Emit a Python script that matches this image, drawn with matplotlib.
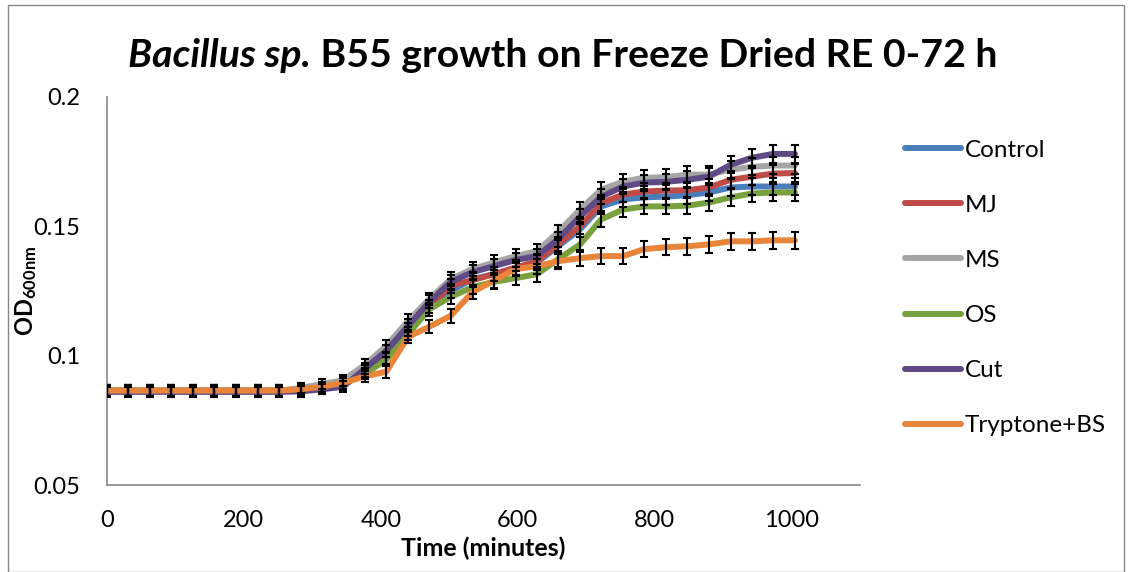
import matplotlib
matplotlib.use("Agg")
import matplotlib.pyplot as plt
from matplotlib.patches import Rectangle

plt.rcParams['font.family'] = ['Lato', 'DejaVu Sans']
plt.rcParams['mathtext.fontset'] = 'custom'
plt.rcParams['mathtext.rm'] = 'Lato'
plt.rcParams['mathtext.bf'] = 'Lato:bold'

# time points (minutes)
time = [0, 31, 63, 94, 126, 157, 188, 220, 251, 283, 314, 345, 377, 408, 440, 471,
        502, 534, 565, 597, 628, 659, 691, 722, 754, 785, 816, 848, 879, 911, 942, 973, 1005]

control = [0.0865, 0.0865, 0.0865, 0.0865, 0.0865, 0.0865, 0.0865, 0.0865, 0.0865, 0.0870, 0.0880,
           0.0890, 0.0940, 0.0990, 0.1100, 0.1190, 0.1250, 0.1296, 0.1315, 0.1340, 0.1360, 0.1423,
           0.1488, 0.1577, 0.1604, 0.1612, 0.1615, 0.1620, 0.1631, 0.1650, 0.1654, 0.1654, 0.1654]
mj = [0.0865, 0.0865, 0.0865, 0.0865, 0.0865, 0.0865, 0.0865, 0.0865, 0.0865, 0.0870, 0.0880,
      0.0890, 0.0940, 0.0990, 0.1100, 0.1190, 0.1270, 0.1292, 0.1315, 0.1340, 0.1365, 0.1430,
      0.1500, 0.1590, 0.1623, 0.1635, 0.1638, 0.1640, 0.1650, 0.1680, 0.1692, 0.1704, 0.1706]
ms = [0.0865, 0.0865, 0.0865, 0.0865, 0.0865, 0.0865, 0.0865, 0.0865, 0.0865, 0.0875, 0.0890,
      0.0905, 0.0965, 0.1038, 0.1135, 0.1219, 0.1296, 0.1335, 0.1360, 0.1385, 0.1404, 0.1477,
      0.1565, 0.1642, 0.1673, 0.1688, 0.1690, 0.1700, 0.1700, 0.1719, 0.1730, 0.1735, 0.1735]
os_ = [0.0865, 0.0865, 0.0865, 0.0865, 0.0865, 0.0865, 0.0865, 0.0865, 0.0865, 0.0868, 0.0878,
       0.0890, 0.0930, 0.0985, 0.1085, 0.1180, 0.1227, 0.1265, 0.1285, 0.1300, 0.1315, 0.1373,
       0.1430, 0.1527, 0.1565, 0.1577, 0.1577, 0.1580, 0.1592, 0.1612, 0.1627, 0.1631, 0.1631]
cut = [0.0860, 0.0860, 0.0860, 0.0860, 0.0860, 0.0860, 0.0860, 0.0860, 0.0860, 0.0862, 0.0870,
       0.0880, 0.0950, 0.1019, 0.1115, 0.1208, 0.1285, 0.1323, 0.1346, 0.1370, 0.1385, 0.1450,
       0.1538, 0.1615, 0.1654, 0.1669, 0.1672, 0.1680, 0.1692, 0.1738, 0.1765, 0.1780, 0.1780]
tryp = [0.0865, 0.0865, 0.0865, 0.0865, 0.0865, 0.0865, 0.0865, 0.0865, 0.0865, 0.0870, 0.0880,
        0.0895, 0.0920, 0.0938, 0.1073, 0.1112, 0.1154, 0.1246, 0.1290, 0.1335, 0.1346, 0.1365,
        0.1377, 0.1385, 0.1385, 0.1412, 0.1419, 0.1423, 0.1430, 0.1442, 0.1442, 0.1446, 0.1446]

# standard deviations
err = [0.0020, 0.0020, 0.0020, 0.0020, 0.0020, 0.0020, 0.0020, 0.0020, 0.0020, 0.0020, 0.0020,
       0.0022, 0.0022, 0.0024, 0.0025, 0.0025, 0.0026, 0.0027, 0.0028, 0.0028, 0.0029, 0.0030,
       0.0030, 0.0030, 0.0030, 0.0031, 0.0031, 0.0032, 0.0032, 0.0033, 0.0033, 0.0034, 0.0034]

labels = ["Control", "MJ", "MS", "OS", "Cut", "Tryptone+BS"]
series = [control, mj, ms, os_, cut, tryp]
colors = ["#4A7EBB", "#BE4B48", "#A5A5A5", "#78A03C", "#5F4A85", "#E8853A"]

fig = plt.figure(figsize=(11.28, 5.72), dpi=100)
ax = fig.add_axes([107/1128, 1 - 485/572, (860 - 107)/1128, (485 - 97)/572])

for vals, lab, col in zip(series, labels, colors):
    ax.plot(time, vals, color=col, lw=4.3, label=lab, solid_capstyle='round', zorder=2)
for vals in series:
    ax.errorbar(time, vals, yerr=err, fmt='none', ecolor='black', elinewidth=1.5,
                capsize=3, capthick=1.5, zorder=3)

ax.set_xlim(0, 1100)
ax.set_ylim(0.05, 0.2)
ax.set_xticks([0, 200, 400, 600, 800, 1000])
ax.set_yticks([0.05, 0.1, 0.15, 0.2])
ax.set_yticklabels(["0.05", "0.1", "0.15", "0.2"])
ax.tick_params(length=0, labelsize=17)
ax.tick_params(axis='x', pad=18)
ax.tick_params(axis='y', pad=19)
for s in ['top', 'right']:
    ax.spines[s].set_visible(False)
for s in ['left', 'bottom']:
    ax.spines[s].set_color('#868686')
    ax.spines[s].set_linewidth(1.2)

ax.set_xlabel("Time (minutes)", fontsize=18, fontweight='bold', labelpad=4)
ax.set_ylabel(r"$\mathbf{OD_{600nm}}$", fontsize=17)
ax.yaxis.set_label_coords(-0.09, 0.5)

fig.legend(loc='upper left', bbox_to_anchor=(883/1128, 1 - 118/572), frameon=False,
           fontsize=17.5, handlelength=2.3, handletextpad=0.15, labelspacing=1.4)

# title: italic genus part + regular bold remainder
renderer = fig.canvas.get_renderer()
t1 = fig.text(0, 1 - 67/572, "Bacillus sp.", fontsize=28.3, fontweight='bold', style='italic', va='baseline')
t2 = fig.text(0, 1 - 67/572, " B55 growth on Freeze Dried RE 0-72 h", fontsize=28.3, fontweight='bold', va='baseline')
w1 = t1.get_window_extent(renderer).width
w2 = t2.get_window_extent(renderer).width
x0 = (563 - (w1 + w2) / 2) / 1128
t1.set_x(x0)
t2.set_x(x0 + w1 / 1128)

fig.patches.append(Rectangle((8/1128, 0), 1 - 12/1128, 1 - 5/572, transform=fig.transFigure,
                             fill=False, edgecolor='#868686', lw=1))

fig.savefig("out.png", dpi=100)
